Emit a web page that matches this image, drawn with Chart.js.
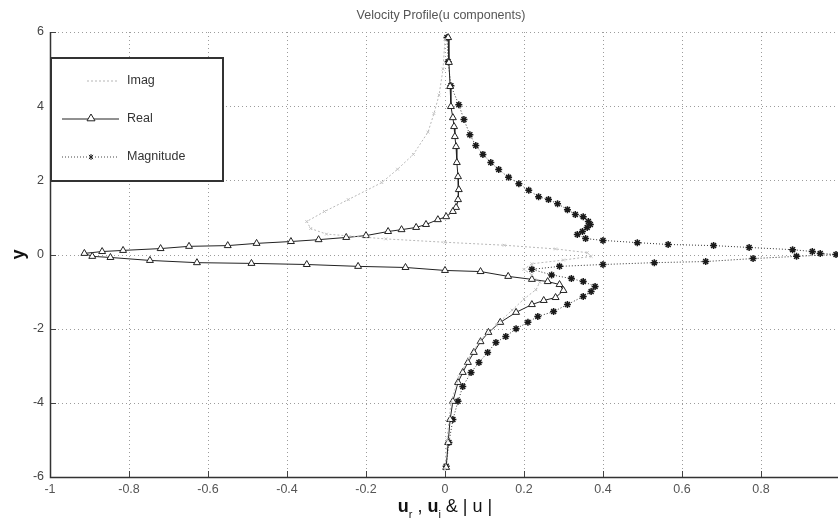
<!DOCTYPE html>
<html>
<head>
<meta charset="utf-8">
<title>Velocity Profile</title>
<script src="https://cdn.jsdelivr.net/npm/chart.js@4.4.0/dist/chart.umd.min.js"></script>
<style>
  html, body { margin: 0; padding: 0; background: #fff; }
  #wrap { width: 838px; height: 528px; }
</style>
</head>
<body>
<div id="wrap"><canvas id="velChart" width="838" height="528"></canvas></div>
<script>
// velocity components along y (profile read top to bottom)
const imagX = [0.0, -0.005, -0.015, -0.028, -0.043, -0.08, -0.12, -0.16, -0.245, -0.305, -0.35, -0.34, -0.3, -0.15, 0.0, 0.15, 0.28, 0.36, 0.37, 0.3, 0.22, 0.2, 0.22, 0.24, 0.23, 0.2, 0.17, 0.13, 0.09, 0.06, 0.035, 0.015, 0.005, 0.0];
const imagY = [5.8, 5.0, 4.3, 3.8, 3.3, 2.7, 2.3, 1.94, 1.48, 1.16, 0.89, 0.7, 0.55, 0.42, 0.33, 0.25, 0.15, 0.05, -0.05, -0.15, -0.25, -0.4, -0.55, -0.75, -0.95, -1.2, -1.5, -1.9, -2.3, -2.8, -3.3, -4.0, -5.0, -5.8];

const realX = [0.008, 0.010, 0.013, 0.015, 0.020, 0.023, 0.025, 0.028, 0.030, 0.033, 0.035, 0.033, 0.028, 0.020, 0.003, -0.018, -0.048, -0.073, -0.11, -0.144, -0.20, -0.25, -0.32, -0.39, -0.477, -0.55, -0.648, -0.72, -0.815, -0.868, -0.913, -0.893, -0.847, -0.747, -0.628, -0.49, -0.35, -0.22, -0.10, 0.0, 0.09, 0.16, 0.22, 0.26, 0.29, 0.30, 0.28, 0.25, 0.22, 0.18, 0.14, 0.11, 0.09, 0.073, 0.058, 0.045, 0.033, 0.020, 0.013, 0.008, 0.003];
const realY = [5.85, 5.18, 4.53, 3.99, 3.69, 3.45, 3.18, 2.91, 2.48, 2.10, 1.75, 1.48, 1.27, 1.16, 1.02, 0.94, 0.81, 0.73, 0.67, 0.62, 0.51, 0.46, 0.40, 0.35, 0.30, 0.24, 0.22, 0.16, 0.11, 0.08, 0.03, -0.05, -0.08, -0.16, -0.22, -0.24, -0.27, -0.32, -0.35, -0.43, -0.46, -0.59, -0.67, -0.73, -0.81, -0.97, -1.16, -1.24, -1.35, -1.56, -1.83, -2.10, -2.35, -2.64, -2.91, -3.18, -3.45, -3.96, -4.45, -5.07, -5.74];

const magX = [0.005, 0.008, 0.015, 0.035, 0.048, 0.063, 0.078, 0.096, 0.116, 0.136, 0.161, 0.187, 0.212, 0.237, 0.262, 0.285, 0.31, 0.33, 0.35, 0.363, 0.368, 0.36, 0.348, 0.335, 0.356, 0.40, 0.487, 0.565, 0.68, 0.77, 0.88, 0.93, 0.95, 0.99, 0.89, 0.78, 0.66, 0.53, 0.40, 0.29, 0.22, 0.27, 0.32, 0.35, 0.38, 0.37, 0.35, 0.31, 0.275, 0.235, 0.21, 0.18, 0.154, 0.129, 0.108, 0.086, 0.066, 0.045, 0.033, 0.020, 0.010, 0.003];
const magY = [5.85, 5.2, 4.55, 4.04, 3.64, 3.23, 2.94, 2.70, 2.48, 2.29, 2.08, 1.91, 1.73, 1.56, 1.48, 1.37, 1.21, 1.08, 1.02, 0.89, 0.81, 0.73, 0.62, 0.54, 0.43, 0.38, 0.32, 0.27, 0.24, 0.19, 0.13, 0.08, 0.03, 0.0, -0.05, -0.11, -0.19, -0.22, -0.27, -0.32, -0.40, -0.55, -0.65, -0.73, -0.86, -1.0, -1.13, -1.35, -1.54, -1.67, -1.83, -2.0, -2.21, -2.37, -2.64, -2.91, -3.18, -3.56, -3.96, -4.45, -5.07, -5.71];

const seriesNames = ["Imag", "Real", "Magnitude"];
const xTicks = [-1, -0.8, -0.6, -0.4, -0.2, 0, 0.2, 0.4, 0.6, 0.8, 1];
const yTicks = [-6, -4, -2, 0, 2, 4, 6];
const chartTitle = "Velocity Profile(u components)";

// the axis runs to 1, but the window stops just short of it
const xMin = -1, xMax = 0.995;
const visibleXTicks = xTicks.filter(v => v <= xMax);

const toPoints = (xs, ys) => xs.map((x, i) => ({ x: x, y: ys[i] }));

const FONT = "'Liberation Sans', Arial, sans-serif";

// triangle / star markers for the legend box
function drawTriangle(ctx, x, y, r) {
    ctx.beginPath();
    ctx.moveTo(x, y - r);
    ctx.lineTo(x + r, y + r * 0.7);
    ctx.lineTo(x - r, y + r * 0.7);
    ctx.closePath();
    ctx.fillStyle = "#fff";
    ctx.fill();
    ctx.stroke();
}
function drawStar(ctx, x, y, r) {
    ctx.beginPath();
    ctx.moveTo(x, y - r); ctx.lineTo(x, y + r);
    ctx.moveTo(x - r * 0.7, y - r * 0.7); ctx.lineTo(x + r * 0.7, y + r * 0.7);
    ctx.moveTo(x + r * 0.7, y - r * 0.7); ctx.lineTo(x - r * 0.7, y + r * 0.7);
    ctx.stroke();
}

// dotted grid, inward tick marks, axis lines, title, legend and axis titles
const gridPlugin = {
    id: "matGrid",
    beforeDatasetsDraw(chart) {
        const ctx = chart.ctx;
        const a = chart.chartArea;
        const xs = chart.scales.x, ys = chart.scales.y;
        ctx.save();
        ctx.strokeStyle = "#9c9c9c";
        ctx.lineWidth = 1;
        ctx.setLineDash([1, 3]);
        visibleXTicks.forEach(v => {
            const px = Math.round(xs.getPixelForValue(v)) + 0.5;
            ctx.beginPath(); ctx.moveTo(px, a.top); ctx.lineTo(px, a.bottom); ctx.stroke();
        });
        yTicks.forEach(v => {
            const py = Math.round(ys.getPixelForValue(v)) + 0.5;
            ctx.beginPath(); ctx.moveTo(a.left, py); ctx.lineTo(a.right, py); ctx.stroke();
        });
        ctx.setLineDash([]);
        ctx.strokeStyle = "#444";
        visibleXTicks.forEach(v => {
            const px = Math.round(xs.getPixelForValue(v)) + 0.5;
            ctx.beginPath(); ctx.moveTo(px, a.bottom); ctx.lineTo(px, a.bottom - 6); ctx.stroke();
        });
        yTicks.forEach(v => {
            const py = Math.round(ys.getPixelForValue(v)) + 0.5;
            ctx.beginPath(); ctx.moveTo(a.left, py); ctx.lineTo(a.left + 6, py); ctx.stroke();
        });
        ctx.strokeStyle = "#333";
        ctx.lineWidth = 1.5;
        ctx.beginPath();
        ctx.moveTo(a.left + 0.5, a.top);
        ctx.lineTo(a.left + 0.5, a.bottom + 0.5);
        ctx.lineTo(a.right, a.bottom + 0.5);
        ctx.stroke();
        ctx.restore();
    },
    afterDraw(chart) {
        const ctx = chart.ctx;
        const a = chart.chartArea;
        const cx = chart.scales.x.getPixelForValue(0);
        ctx.save();

        // title
        ctx.fillStyle = "#555";
        ctx.font = "12.5px " + FONT;
        ctx.textAlign = "center";
        ctx.textBaseline = "middle";
        ctx.fillText(chartTitle, cx - 4, 16);

        // legend box
        const lx = 50, ly = 57, lw = 173, lh = 124;
        ctx.fillStyle = "#fff";
        ctx.fillRect(lx, ly, lw, lh);
        ctx.strokeStyle = "#333";
        ctx.lineWidth = 2;
        ctx.strokeRect(lx + 1, ly + 1, lw - 1, lh - 1);

        const rowY = [81, 119, 157];
        const x0 = 62, x1 = 119, xm = 91;
        ctx.lineWidth = 1;
        // Imag
        ctx.strokeStyle = "#b5b5b5";
        ctx.setLineDash([2, 2]);
        ctx.beginPath(); ctx.moveTo(x0 + 25, rowY[0]); ctx.lineTo(x1, rowY[0]); ctx.stroke();
        // Real
        ctx.setLineDash([]);
        ctx.strokeStyle = "#222";
        ctx.beginPath(); ctx.moveTo(x0, rowY[1]); ctx.lineTo(x1, rowY[1]); ctx.stroke();
        drawTriangle(ctx, xm, rowY[1] - 1, 4);
        // Magnitude
        ctx.strokeStyle = "#444";
        ctx.setLineDash([1, 2]);
        ctx.beginPath(); ctx.moveTo(x0, rowY[2]); ctx.lineTo(x1, rowY[2]); ctx.stroke();
        ctx.setLineDash([]);
        ctx.strokeStyle = "#222";
        drawStar(ctx, xm, rowY[2], 3);

        ctx.fillStyle = "#333";
        ctx.font = "12.5px " + FONT;
        ctx.textAlign = "left";
        seriesNames.forEach((n, i) => ctx.fillText(n, 127, rowY[i]));

        // y axis title
        ctx.save();
        ctx.translate(19, (a.top + a.bottom) / 2);
        ctx.rotate(-Math.PI / 2);
        ctx.font = "bold 18px " + FONT;
        ctx.fillStyle = "#111";
        ctx.textAlign = "center";
        ctx.textBaseline = "middle";
        ctx.fillText("y", 0, 0);
        ctx.restore();

        // x axis title: u_r , u_i & | u |
        const big = "bold 18px " + FONT;
        const mid = "18px " + FONT;
        const small = "11px " + FONT;
        const parts = [
            ["u", big, 0], ["r", small, 6], [" , ", mid, 0],
            ["u", big, 0], ["i", small, 6], [" & | u |", mid, 0]
        ];
        ctx.fillStyle = "#111";
        ctx.textAlign = "left";
        ctx.textBaseline = "alphabetic";
        let total = 0;
        parts.forEach(p => { ctx.font = p[1]; total += ctx.measureText(p[0]).width; });
        let tx = cx - total / 2;
        parts.forEach(p => {
            ctx.font = p[1];
            ctx.fillText(p[0], tx, 512 + p[2]);
            tx += ctx.measureText(p[0]).width;
        });
        ctx.restore();
    }
};

const ctx = document.getElementById("velChart").getContext("2d");

new Chart(ctx, {
    type: "scatter",
    data: {
        datasets: [
            {
                label: seriesNames[0],
                data: toPoints(imagX, imagY),
                showLine: true,
                borderColor: "#b8b8b8",
                borderWidth: 1,
                borderDash: [2, 2],
                pointStyle: "crossRot",
                pointRadius: 2,
                pointBorderColor: "#c4c4c4",
                pointBorderWidth: 1,
                tension: 0
            },
            {
                label: seriesNames[1],
                data: toPoints(realX, realY),
                showLine: true,
                borderColor: "#222",
                borderWidth: 1,
                pointStyle: "triangle",
                pointRadius: 4,
                pointBackgroundColor: "#fff",
                pointBorderColor: "#222",
                pointBorderWidth: 1,
                tension: 0
            },
            {
                label: seriesNames[2],
                data: toPoints(magX, magY),
                showLine: true,
                borderColor: "#333",
                borderWidth: 1,
                borderDash: [1, 2],
                pointStyle: "star",
                pointRadius: 3.5,
                pointBorderColor: "#1a1a1a",
                pointBorderWidth: 1.5,
                tension: 0
            }
        ]
    },
    options: {
        responsive: false,
        animation: false,
        clip: false,
        layout: { autoPadding: false, padding: { top: 32, left: 0, right: 0, bottom: 0 } },
        plugins: {
            legend: { display: false },
            title: { display: false },
            tooltip: { enabled: false }
        },
        scales: {
            x: {
                type: "linear",
                min: xMin,
                max: xMax,
                afterFit: s => { s.height = 51; s.paddingRight = 0; },
                afterBuildTicks: s => { s.ticks = visibleXTicks.map(v => ({ value: v })); },
                grid: { display: false, drawTicks: false },
                border: { display: false },
                ticks: {
                    padding: 5,
                    color: "#555",
                    font: { family: FONT, size: 12.5 },
                    maxRotation: 0,
                    autoSkip: false,
                    callback: v => String(Number(v.toFixed(1)))
                }
            },
            y: {
                type: "linear",
                min: -6,
                max: 6,
                afterFit: s => { s.width = 50; },
                afterBuildTicks: s => { s.ticks = yTicks.map(v => ({ value: v })); },
                grid: { display: false, drawTicks: false },
                border: { display: false },
                ticks: {
                    padding: 6,
                    color: "#444",
                    font: { family: FONT, size: 12.5 },
                    callback: v => String(v)
                }
            }
        }
    },
    plugins: [gridPlugin]
});
</script>
</body>
</html>
